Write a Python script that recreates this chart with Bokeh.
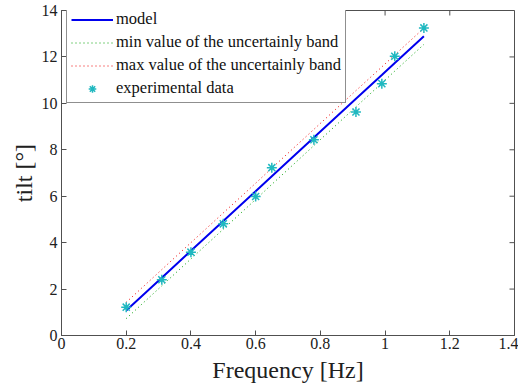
import math
from bokeh.plotting import figure
from bokeh.models import Range1d, FixedTicker, CustomJSTickFormatter, Legend, LegendItem
from bokeh.embed import file_html
from bokeh.resources import INLINE

# data
freq = [0.2, 0.31, 0.40, 0.50, 0.60, 0.65, 0.78, 0.91, 0.99, 1.03, 1.12]
tilt_exp = [1.22, 2.40, 3.59, 4.81, 5.99, 7.23, 8.43, 9.63, 10.85, 12.03, 13.25]
tilt_model = [1.08, 2.49, 3.65, 4.93, 6.21, 6.86, 8.53, 10.20, 11.22, 11.74, 12.89]
band_low = [0.73, 2.14, 3.30, 4.58, 5.86, 6.51, 8.18, 9.85, 10.87, 11.39, 12.54]
band_high = [1.43, 2.84, 4.00, 5.28, 6.56, 7.21, 8.88, 10.55, 11.57, 12.09, 13.24]
x_ticks = [0, 0.2, 0.4, 0.6, 0.8, 1.0, 1.2, 1.4]
y_ticks = [0, 2, 4, 6, 8, 10, 12, 14]
x_max = 1.4
y_max = 14

FONT = "Liberation Serif"
AX = "#505050"

p = figure(frame_width=453, frame_height=325, output_backend="svg", toolbar_location=None,
           x_range=Range1d(0, x_max), y_range=Range1d(0, y_max),
           min_border_left=61, min_border_right=4, min_border_top=10, min_border_bottom=40)
p.grid.visible = False
p.outline_line_color = AX
p.background_fill_color = "white"

fmt = CustomJSTickFormatter(code="return (Math.round(tick*10)/10).toString();")

for ax in (p.xaxis[0], p.yaxis[0]):
    ax.axis_line_color = AX
    ax.major_tick_line_color = AX
    ax.major_tick_in = 5
    ax.major_tick_out = 0
    ax.minor_tick_line_color = None
    ax.major_label_text_font = FONT
    ax.major_label_text_font_size = "16px"
    ax.major_label_text_color = "#202020"
    ax.axis_label_text_font = FONT
    ax.axis_label_text_font_size = "24px"
    ax.axis_label_text_font_style = "normal"
    ax.axis_label_text_color = "#202020"
    ax.formatter = fmt

p.xaxis[0].ticker = FixedTicker(ticks=x_ticks)
p.yaxis[0].ticker = FixedTicker(ticks=y_ticks)
p.xaxis[0].axis_label = "Frequency [Hz]"
p.yaxis[0].axis_label = "tilt [°]"
p.xaxis[0].major_label_standoff = 2
p.yaxis[0].major_label_standoff = 4
p.xaxis[0].axis_label_standoff = 5
p.yaxis[0].axis_label_standoff = 2

# mirrored tick marks on the top and right edges of the box
p.ray(x=x_ticks, y=[y_max] * len(x_ticks), length=5, length_units="screen",
      angle=-math.pi / 2, line_color=AX, line_width=1)
p.ray(x=[x_max] * len(y_ticks), y=y_ticks, length=5, length_units="screen",
      angle=math.pi, line_color=AX, line_width=1)

r_model = p.line(freq, tilt_model, line_color="#0000ee", line_width=2)
r_low = p.line(freq, band_low, line_color="#00a000", line_width=1, line_dash="1 3")
r_high = p.line(freq, band_high, line_color="#ee0000", line_width=1, line_dash="1 3")
r_exp = p.scatter(freq, tilt_exp, marker="asterisk", size=10, line_color="#20b8c0", line_width=1.5)

legend = Legend(items=[
    LegendItem(label="model", renderers=[r_model]),
    LegendItem(label="min value of the uncertainly band", renderers=[r_low]),
    LegendItem(label="max value of the uncertainly band", renderers=[r_high]),
    LegendItem(label="experimental data", renderers=[r_exp]),
], location=(5, 232))
legend.label_text_font = FONT
legend.label_text_font_size = "16.5px"
legend.label_text_color = "#101010"
legend.border_line_color = "#202020"
legend.border_line_width = 1
legend.glyph_width = 42
legend.glyph_height = 19
legend.label_height = 19
legend.label_standoff = 3
legend.spacing = 3
legend.padding = 4
legend.margin = 0
legend.background_fill_alpha = 1
p.add_layout(legend, "center")

open("out.html", "w").write(file_html(p, INLINE))
